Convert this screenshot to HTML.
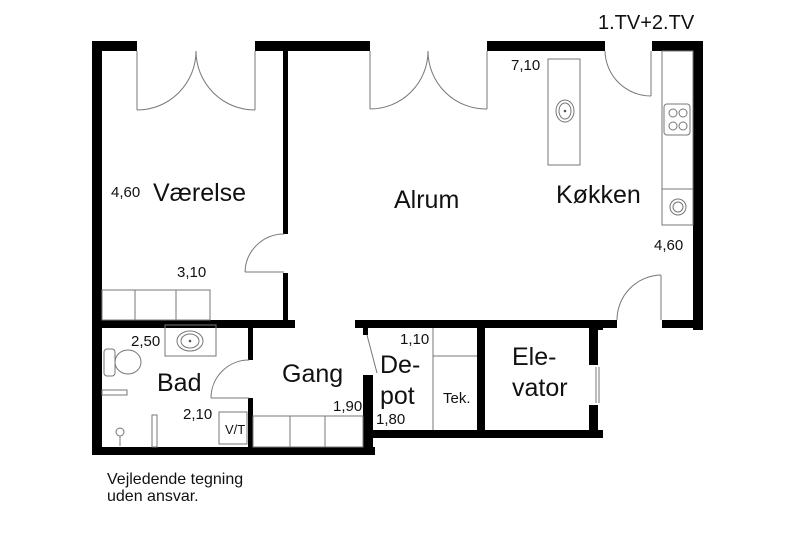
<!DOCTYPE html>
<html><head><style>
body{margin:0;background:#fff;}
svg{display:block;}
text{font-family:"Liberation Sans",Arial,sans-serif;fill:#111;}
</style></head><body>
<svg width="800" height="533" viewBox="0 0 800 533" xmlns="http://www.w3.org/2000/svg">
<g fill="#000">
<rect x="92" y="41" width="45" height="10"/>
<rect x="255" y="41" width="115" height="10"/>
<rect x="487" y="41" width="118" height="10"/>
<rect x="652" y="41" width="51" height="10"/>
<rect x="92" y="41" width="10" height="414"/>
<rect x="693" y="41" width="10" height="289"/>
<rect x="283" y="51" width="5" height="183"/>
<rect x="283" y="273" width="5" height="50"/>
<rect x="92" y="320" width="203" height="8"/>
<rect x="355" y="320" width="262" height="8"/>
<rect x="662" y="320" width="41" height="8"/>
<rect x="248" y="320" width="5" height="40"/>
<rect x="248" y="398" width="5" height="52"/>
<rect x="92" y="447" width="283" height="8"/>
<rect x="367" y="430" width="236" height="8"/>
<rect x="363" y="320" width="5" height="15"/>
<rect x="363" y="375" width="10" height="80"/>
<rect x="477" y="320" width="8" height="118"/>
<rect x="589" y="320" width="9" height="45"/>
<rect x="589" y="405" width="9" height="33"/>
<rect x="598" y="320" width="5" height="10"/>
</g>
<g fill="none" stroke="#777" stroke-width="1">
<line x1="137" y1="51" x2="137" y2="110"/><path d="M137 110 A59 59 0 0 0 196 51"/>
<line x1="255" y1="51" x2="255" y2="110"/><path d="M255 110 A59 59 0 0 1 196 51"/>
<line x1="370" y1="51" x2="370" y2="109"/><path d="M370 109 A58 58 0 0 0 428 51"/>
<line x1="487" y1="51" x2="487" y2="109"/><path d="M487 109 A58 58 0 0 1 428 51"/>
<line x1="651" y1="51" x2="651" y2="96"/><path d="M651 96 A46 46 0 0 1 605 51"/>
<line x1="245" y1="272" x2="284" y2="272"/><path d="M245 272 A39 39 0 0 1 284 234"/>
<line x1="661" y1="275" x2="661" y2="320"/><path d="M617 320 A45 45 0 0 1 661 275"/>
<line x1="211" y1="398" x2="249" y2="398"/><path d="M211 398 A38 38 0 0 1 249 360"/>
<line x1="367" y1="335" x2="377" y2="373"/>
<line x1="596" y1="367" x2="596" y2="403"/><line x1="599" y1="367" x2="599" y2="403"/>
<rect x="102" y="290" width="108" height="30"/>
<line x1="135" y1="290" x2="135" y2="320"/><line x1="176" y1="290" x2="176" y2="320"/>
<rect x="253" y="416" width="110" height="31"/>
<line x1="290" y1="416" x2="290" y2="447"/><line x1="325" y1="416" x2="325" y2="447"/>
<rect x="548" y="59" width="32" height="106"/>
<ellipse cx="565" cy="111" rx="9" ry="11"/><ellipse cx="565" cy="111" rx="6" ry="8"/>
<rect x="662" y="51" width="31" height="174"/>
<line x1="662" y1="189" x2="693" y2="189"/>
<rect x="664" y="104" width="26" height="31" rx="3"/>
<circle cx="673" cy="113" r="4"/><circle cx="683" cy="113" r="4"/>
<circle cx="673" cy="126" r="4"/><circle cx="683" cy="126" r="4"/>
<circle cx="678" cy="207" r="8"/><circle cx="678" cy="207" r="5"/>
<line x1="433" y1="328" x2="433" y2="430"/>
<line x1="433" y1="356" x2="477" y2="356"/>
<rect x="165" y="325" width="51" height="31"/>
<ellipse cx="190" cy="341" rx="13" ry="10"/><ellipse cx="190" cy="341" rx="9" ry="7"/>
<rect x="104" y="349" width="11" height="27" rx="3"/>
<ellipse cx="128" cy="362" rx="13" ry="12"/>
<rect x="102" y="390" width="25" height="5"/>
<rect x="152" y="415" width="5" height="32"/>
<circle cx="120" cy="432" r="4"/><line x1="120" y1="436" x2="120" y2="446"/>
<rect x="219" y="412" width="28" height="32"/>
</g>
<circle cx="565" cy="111" r="1.3" fill="#555"/>
<circle cx="190" cy="341" r="1.3" fill="#555"/>
<text x="598" y="29" font-size="20">1.TV+2.TV</text>
<text x="153" y="201" font-size="25">Værelse</text>
<text x="111" y="197" font-size="15">4,60</text>
<text x="177" y="277" font-size="15">3,10</text>
<text x="394" y="208" font-size="25">Alrum</text>
<text x="556" y="203" font-size="25">Køkken</text>
<text x="511" y="70" font-size="15">7,10</text>
<text x="654" y="250" font-size="15">4,60</text>
<text x="131" y="346" font-size="15">2,50</text>
<text x="157" y="391" font-size="25">Bad</text>
<text x="183" y="419" font-size="15">2,10</text>
<text x="225" y="434" font-size="13">V/T</text>
<text x="282" y="382" font-size="25">Gang</text>
<text x="333" y="411" font-size="15">1,90</text>
<text x="400" y="344" font-size="15">1,10</text>
<text x="380" y="373" font-size="25">De-</text>
<text x="380" y="404" font-size="25">pot</text>
<text x="376" y="424" font-size="15">1,80</text>
<text x="443" y="403" font-size="15">Tek.</text>
<text x="512" y="365" font-size="25">Ele-</text>
<text x="512" y="396" font-size="25">vator</text>
<text x="107" y="484" font-size="16">Vejledende tegning</text>
<text x="107" y="501" font-size="16">uden ansvar.</text>
</svg>
</body></html>
